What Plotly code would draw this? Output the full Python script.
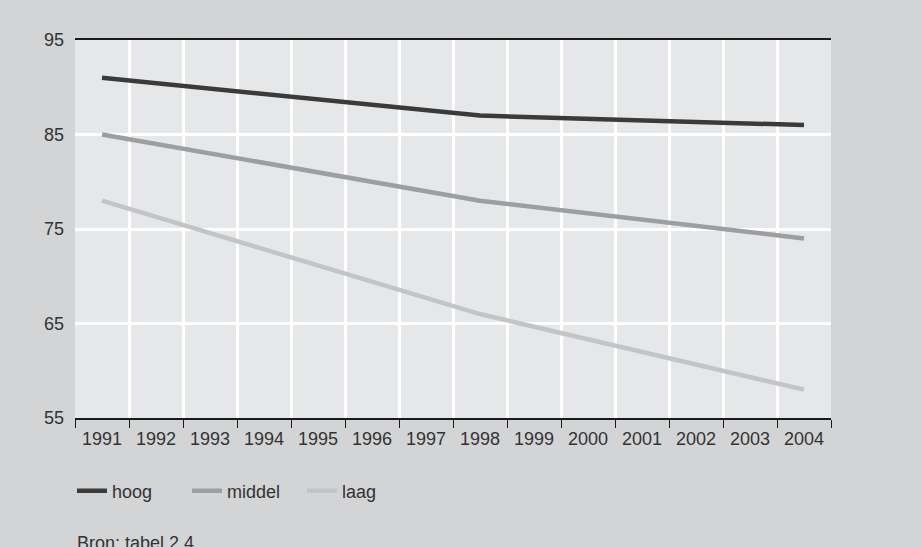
import plotly.graph_objects as go

years = [str(y) for y in range(1991, 2005)]
point_years = ["1991", "1998", "2004"]
hoog = [91, 87, 86]
middel = [85, 78, 74]
laag = [78, 66, 58]
series_names = ["hoog", "middel", "laag"]
series_colors = ["#3a3a3b", "#9d9ea0", "#c3c4c6"]
y_ticks = [55, 65, 75, 85, 95]

FONT = "Liberation Sans, Arial, sans-serif"
TXT = "#333333"

fig = go.Figure()
for name, vals, col in zip(series_names, [hoog, middel, laag], series_colors):
    fig.add_trace(go.Scatter(x=point_years, y=vals, name=name, mode="lines",
                             line=dict(color=col, width=4.5)))

fig.update_layout(
    width=922, height=547,
    margin=dict(l=75, r=91, t=40, b=129),
    paper_bgcolor="#d3d4d6",
    plot_bgcolor="#e6e7e9",
    font=dict(family=FONT, size=18, color=TXT),
    showlegend=True,
    legend=dict(orientation="h", x=-0.004, xanchor="left", y=-0.193, yanchor="middle",
                bgcolor="rgba(0,0,0,0)", font=dict(family=FONT, size=18, color=TXT),
                entrywidth=70, entrywidthmode="pixels", itemclick=False),
    annotations=[dict(text="Bron: tabel 2.4", x=0.0, y=-0.300, xref="paper", yref="paper",
                      xanchor="left", yanchor="top", showarrow=False,
                      font=dict(family=FONT, size=18, color=TXT))],
)

fig.update_xaxes(
    type="category", categoryorder="array", categoryarray=years,
    range=[-0.5, 13.5], tickson="boundaries",
    showgrid=True, gridcolor="white", gridwidth=2.5,
    showline=True, linecolor="#1a1a1a", linewidth=1.5, mirror=True,
    ticks="outside", ticklen=8, tickwidth=1.2, tickcolor="#1a1a1a",
    ticklabelstandoff=4,
    tickfont=dict(family=FONT, size=18, color=TXT),
)
fig.update_yaxes(
    range=[55, 95], tickvals=y_ticks, ticktext=[str(v) for v in y_ticks],
    showgrid=True, gridcolor="white", gridwidth=3, zeroline=False,
    showline=False, ticks="", ticklabelstandoff=10,
    tickfont=dict(family=FONT, size=18, color=TXT),
)

fig.write_html("out.html", config={"displayModeBar": False},
               post_script="document.body.style.margin='0px';")
